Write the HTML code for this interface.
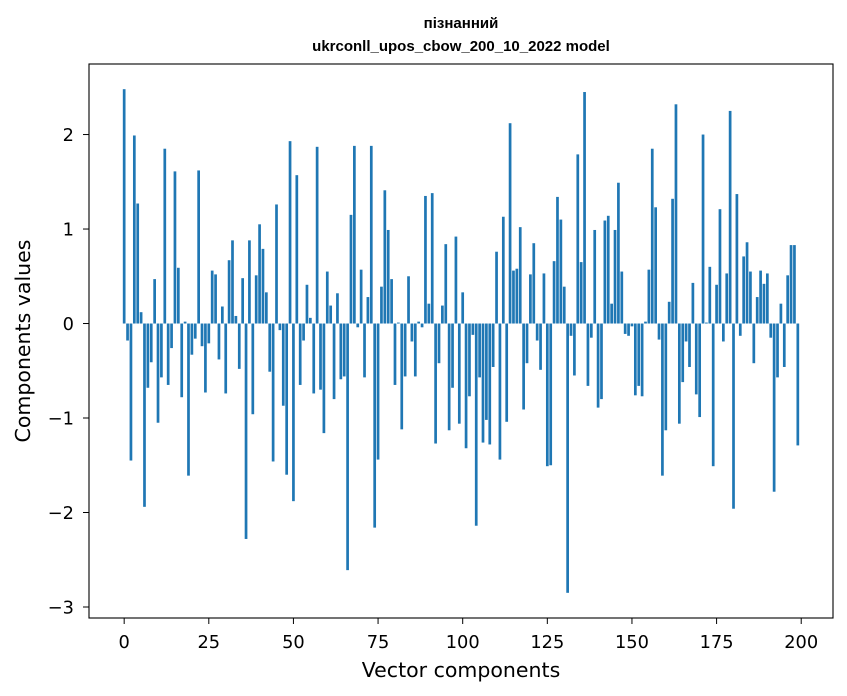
<!DOCTYPE html>
<html><head><meta charset="utf-8"><style>
html,body{margin:0;padding:0;background:#fff;}
svg{display:block;font-family:"DejaVu Sans","Liberation Sans",sans-serif;}
</style></head><body>
<svg id="chart" width="847" height="696" viewBox="0 0 847 696" xmlns="http://www.w3.org/2000/svg">
<rect width="847" height="696" fill="#fff"/>
<text x="461" y="28" text-anchor="middle" font-size="15" font-weight="bold" font-family="Liberation Sans, sans-serif">пізнанний</text>
<text x="461" y="51" text-anchor="middle" font-size="15" font-weight="bold" font-family="Liberation Sans, sans-serif">ukrconll_upos_cbow_200_10_2022 model</text>
<g id="bars"></g>
<g id="xticks"></g>
<g id="yticks"></g>
<rect x="89" y="64" width="744" height="554" fill="none" stroke="#000" stroke-width="1.1"/>
<text x="461" y="677" text-anchor="middle" font-size="20.5">Vector components</text>
<text x="30" y="341" text-anchor="middle" font-size="20.5" transform="rotate(-90 30 341)">Components values</text>
</svg>
<script>
const values = [2.48,-0.18,-1.45,1.99,1.27,0.12,-1.94,-0.68,-0.41,0.47,
-1.05,-0.57,1.85,-0.65,-0.26,1.61,0.59,-0.78,0.02,-1.61,
-0.33,-0.16,1.62,-0.24,-0.73,-0.21,0.56,0.52,-0.38,0.18,
-0.74,0.67,0.88,0.08,-0.48,0.48,-2.28,0.88,-0.96,0.51,
1.05,0.79,0.33,-0.51,-1.46,1.26,-0.07,-0.87,-1.60,1.93,
-1.88,1.57,-0.65,-0.18,0.41,0.06,-0.74,1.87,-0.70,-1.16,
0.55,0.19,-0.80,0.32,-0.59,-0.56,-2.61,1.15,1.88,-0.04,
0.57,-0.57,0.28,1.88,-2.16,-1.44,0.39,1.41,0.99,0.47,
-0.65,0.01,-1.12,-0.56,0.50,-0.19,-0.56,0.02,-0.04,1.35,
0.21,1.38,-1.27,-0.42,0.19,0.84,-1.13,-0.68,0.92,-1.06,
0.33,-1.32,-0.77,-0.12,-2.14,-0.57,-1.26,-1.02,-1.28,-0.46,
0.76,-1.44,1.13,-1.04,2.12,0.56,0.58,1.02,-0.91,-0.42,
0.52,0.85,-0.18,-0.49,0.53,-1.51,-1.50,0.66,1.34,1.10,
0.39,-2.85,-0.13,-0.55,1.79,0.65,2.45,-0.66,-0.15,0.99,
-0.89,-0.80,1.09,1.14,0.21,0.99,1.49,0.55,-0.11,-0.13,
-0.03,-0.76,-0.66,-0.77,0.02,0.57,1.85,1.23,-0.17,-1.61,
-1.13,0.23,1.32,2.32,-1.06,-0.62,-0.19,-0.46,0.43,-0.75,
-0.99,2.00,0.01,0.60,-1.51,0.41,1.21,-0.19,0.53,2.25,
-1.96,1.37,-0.13,0.71,0.86,0.55,-0.42,0.28,0.56,0.42,
0.53,-0.15,-1.78,-0.57,0.21,-0.46,0.51,0.83,0.83,-1.29];
const xTickLabels = [0,25,50,75,100,125,150,175,200];
const yTickLabels = [-3,-2,-1,0,1,2];

const NS="http://www.w3.org/2000/svg";
const L=89,R=833,T=64,B=618;
const n=values.length;
const x0=-0.4,x1=n-1+0.4,xm=(x1-x0)*0.05;
const xmin=x0-xm,xmax=x1+xm;
let dmin=Math.min(0,...values),dmax=Math.max(0,...values);
const ym=(dmax-dmin)*0.05;
const ymin=dmin-ym,ymax=dmax+ym;
const xs=v=>L+(v-xmin)/(xmax-xmin)*(R-L);
const ys=v=>B-(v-ymin)/(ymax-ymin)*(B-T);
const bars=document.getElementById('bars');
values.forEach((v,i)=>{
  const r=document.createElementNS(NS,'rect');
  const xl=xs(i-0.4),xr=xs(i+0.4);
  const y=Math.min(ys(v),ys(0)),h=Math.abs(ys(v)-ys(0));
  r.setAttribute('x',xl);r.setAttribute('width',xr-xl);
  r.setAttribute('y',y);r.setAttribute('height',Math.max(h,0.01));
  r.setAttribute('fill','#1f77b4');
  
  
  bars.appendChild(r);
});
const xg=document.getElementById('xticks');
xTickLabels.forEach(t=>{
  const x=xs(t);
  const l=document.createElementNS(NS,'line');
  l.setAttribute('x1',x);l.setAttribute('x2',x);l.setAttribute('y1',B);l.setAttribute('y2',B+6);
  l.setAttribute('stroke','#000');
  
  
  xg.appendChild(l);
  const tx=document.createElementNS(NS,'text');
  tx.setAttribute('x',x);tx.setAttribute('y',B+30);tx.setAttribute('text-anchor','middle');tx.setAttribute('font-size','17.8');
  tx.textContent=t;
  
  
  xg.appendChild(tx);
});
const yg=document.getElementById('yticks');
yTickLabels.forEach(t=>{
  const y=ys(t);
  const l=document.createElementNS(NS,'line');
  l.setAttribute('x1',L-6);l.setAttribute('x2',L);l.setAttribute('y1',y);l.setAttribute('y2',y);
  l.setAttribute('stroke','#000');
  
  
  yg.appendChild(l);
  const tx=document.createElementNS(NS,'text');
  tx.setAttribute('x',L-15);tx.setAttribute('y',y+6.5);tx.setAttribute('text-anchor','end');tx.setAttribute('font-size','17.8');
  tx.textContent=t<0?'\u2212'+Math.abs(t):String(t);
  
  
  yg.appendChild(tx);
});
</script>
</body></html>
